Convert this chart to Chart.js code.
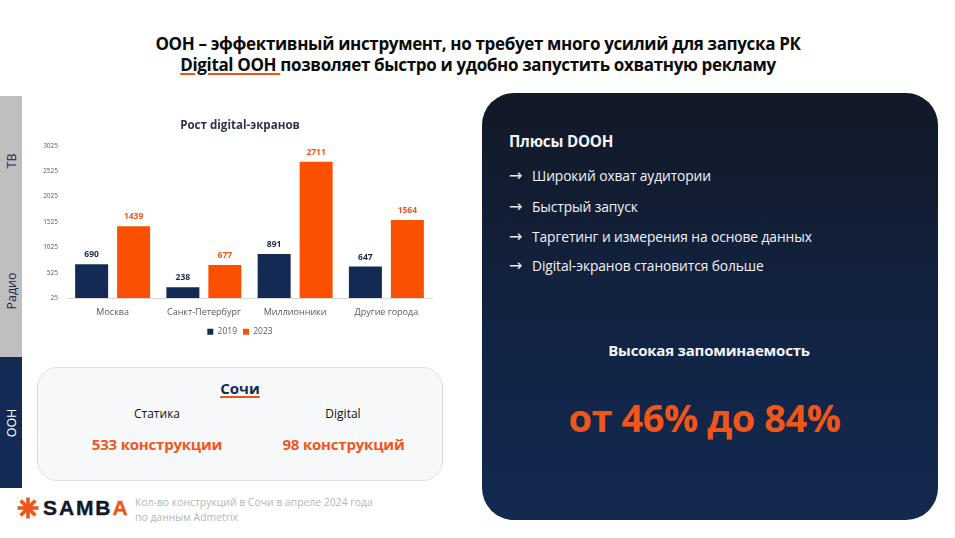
<!DOCTYPE html>
<html lang="ru"><head><meta charset="utf-8">
<script src="https://cdn.jsdelivr.net/npm/chart.js@4"></script>
<style>
html,body{margin:0;padding:0;background:#fff}
body{width:955px;height:538px;position:relative;overflow:hidden;font-family:"Open Sans",sans-serif}
.t{position:absolute;white-space:nowrap}
.c{transform:translateX(-50%);text-align:center}
.side{position:absolute;left:0;width:22px}
.rot{position:absolute;transform:translate(-50%,-50%) rotate(-90deg);white-space:nowrap;font-size:12.5px}
#wrap{position:absolute;left:30px;top:110px;width:420px;height:236px}
.panel{position:absolute;left:482px;top:93px;width:456px;height:427px;border-radius:32px;background:linear-gradient(180deg,#121926 0%,#122446 60%,#13294f 100%)}
.card{position:absolute;left:37px;top:367px;width:406px;height:114px;box-sizing:border-box;border:1px solid #dcdfe3;border-radius:20px;background:#f7f8fa}
.li{color:#f2f4f7;font-size:13.8px;letter-spacing:-.1px}
.ar{color:#e6e9ee;font-family:"DejaVu Sans";font-size:16px;line-height:19px}
u{text-decoration-color:#e8541a;text-decoration-thickness:2px;text-underline-offset:2px}
</style></head><body>
<div class="t c" style="left:478px;top:33px;font-size:17px;line-height:21px;font-weight:700;color:#0b0b0b;letter-spacing:-.35px">ООН – эффективный инструмент, но требует много усилий для запуска РК<br><u>Digital ООН </u>позволяет быстро и удобно запустить охватную рекламу</div>

<div class="side" style="top:96px;height:261px;background:#bfbfbf"></div>
<div class="side" style="top:357px;height:131px;background:#132a55"></div>
<div class="rot" style="left:11px;top:161px;color:#1a2b4d">ТВ</div>
<div class="rot" style="left:11px;top:291px;color:#1a2b4d">Радио</div>
<div class="rot" style="left:11px;top:423px;color:#fff">ООН</div>

<div id="wrap"><canvas id="c"></canvas></div>

<div class="card"></div>
<div class="t c" style="left:240px;top:378px;font-size:15px;font-weight:700;color:#132a55"><u>Сочи</u></div>
<div class="t c" style="left:157px;top:405px;font-size:12px;color:#111">Статика</div>
<div class="t c" style="left:343px;top:405px;font-size:12px;color:#111">Digital</div>
<div class="t c" style="left:157px;top:434px;font-size:15px;font-weight:700;color:#f0561a;letter-spacing:-.2px">533 конструкции</div>
<div class="t c" style="left:343.5px;top:434px;font-size:15px;font-weight:700;color:#f0561a;letter-spacing:-.2px">98 конструкций</div>

<svg style="position:absolute;left:17px;top:497px" width="22" height="22" viewBox="-11 -11 22 22"><g stroke="#f0561a" stroke-width="3.6" stroke-linecap="butt"><line x1="0" y1="-10.5" x2="0" y2="10.5"/><line x1="-10.5" y1="0" x2="10.5" y2="0"/><line x1="-7.4" y1="-7.4" x2="7.4" y2="7.4"/><line x1="-7.4" y1="7.4" x2="7.4" y2="-7.4"/></g></svg>
<div class="t" style="left:43px;top:496px;font-family:'Liberation Sans';font-size:21px;font-weight:700;color:#12192a;letter-spacing:1.9px;-webkit-text-stroke:.4px #12192a">SAMB<span style="color:#f0561a;-webkit-text-stroke:.4px #f0561a">A</span></div>
<div class="t" style="left:135px;top:495px;font-size:10.4px;line-height:15px;color:#b4b7bb">Кол-во конструкций в Сочи в апреле 2024 года<br>по данным Admetrix</div>

<div class="panel"></div>
<div class="t" style="left:509px;top:131px;font-size:15.2px;font-weight:700;color:#f4f5f7;letter-spacing:-.2px">Плюсы DOOH</div>
<div class="t ar" style="left:509px;top:166px">→</div><div class="t li" style="left:532px;top:166px">Широкий охват аудитории</div>
<div class="t ar" style="left:509px;top:197px">→</div><div class="t li" style="left:532px;top:197px">Быстрый запуск</div>
<div class="t ar" style="left:509px;top:227px">→</div><div class="t li" style="left:532px;top:227px">Таргетинг и измерения на основе данных</div>
<div class="t ar" style="left:509px;top:256px">→</div><div class="t li" style="left:532px;top:256px">Digital-экранов становится больше</div>
<div class="t c" style="left:709px;top:340px;font-size:15px;font-weight:700;color:#f4f5f7;letter-spacing:-.2px">Высокая запоминаемость</div>
<div class="t c" style="left:704.5px;top:391px;font-size:38px;font-weight:700;color:#f0561a;letter-spacing:-.5px">от 46% до 84%</div>

<script>
const categories = ["Москва","Санкт-Петербург","Миллионники","Другие города"];
const series2019 = [690,238,891,647];
const series2023 = [1439,677,2711,1564];
const navy = "#132a55", orange = "#fb5000";

const valueLabels = {
  id:"valueLabels",
  afterLayout(chart){ chart.scales.y.left -= 12; },
  afterDatasetsDraw(chart){
    const g = chart.ctx;
    g.save();
    g.font = "700 8.5px 'Open Sans'";
    g.textAlign = "center";
    g.textBaseline = "bottom";
    chart.data.datasets.forEach((ds,i)=>{
      g.fillStyle = i===0 ? "#1a2b4d" : "#f0561a";
      chart.getDatasetMeta(i).data.forEach((b,j)=>{
        g.fillText(ds.data[j], b.x, b.y - 5);
      });
    });
    g.restore();
  }
};

new Chart(document.getElementById("c"),{
  type:"bar",
  data:{labels:categories,datasets:[
    {label:"2019",data:series2019,backgroundColor:navy,categoryPercentage:.92,barPercentage:.786},
    {label:"2023",data:series2023,backgroundColor:orange,categoryPercentage:.92,barPercentage:.786}
  ]},
  plugins:[valueLabels],
  options:{
    responsive:true,maintainAspectRatio:false,animation:false,
    layout:{padding:{left:18,right:18,top:0,bottom:0}},
    plugins:{
      title:{display:true,text:"Рост digital-экранов",color:"#2b3648",font:{family:"'Open Sans'",size:11.6,weight:"700"},padding:{top:9,bottom:13}},
      legend:{position:"bottom",labels:{boxWidth:6,boxHeight:6,color:"#55595f",font:{family:"'Open Sans'",size:8.5},padding:6}},
      tooltip:{enabled:false}
    },
    scales:{
      x:{grid:{display:false,drawTicks:false},border:{color:"#d9d9d9"},
         afterFit(s){s.height=23.5},
         ticks:{color:"#595959",font:{family:"'Open Sans'",size:9},padding:9,maxRotation:0}},
      y:{min:25,max:3025,grid:{display:false,drawTicks:false},border:{display:false},
         afterFit(s){s.width=19},
         ticks:{stepSize:500,color:"#595959",font:{family:"'Open Sans'",size:6.5},padding:9,callback:v=>String(v)}}
    }
  }
});
</script>
</body></html>
